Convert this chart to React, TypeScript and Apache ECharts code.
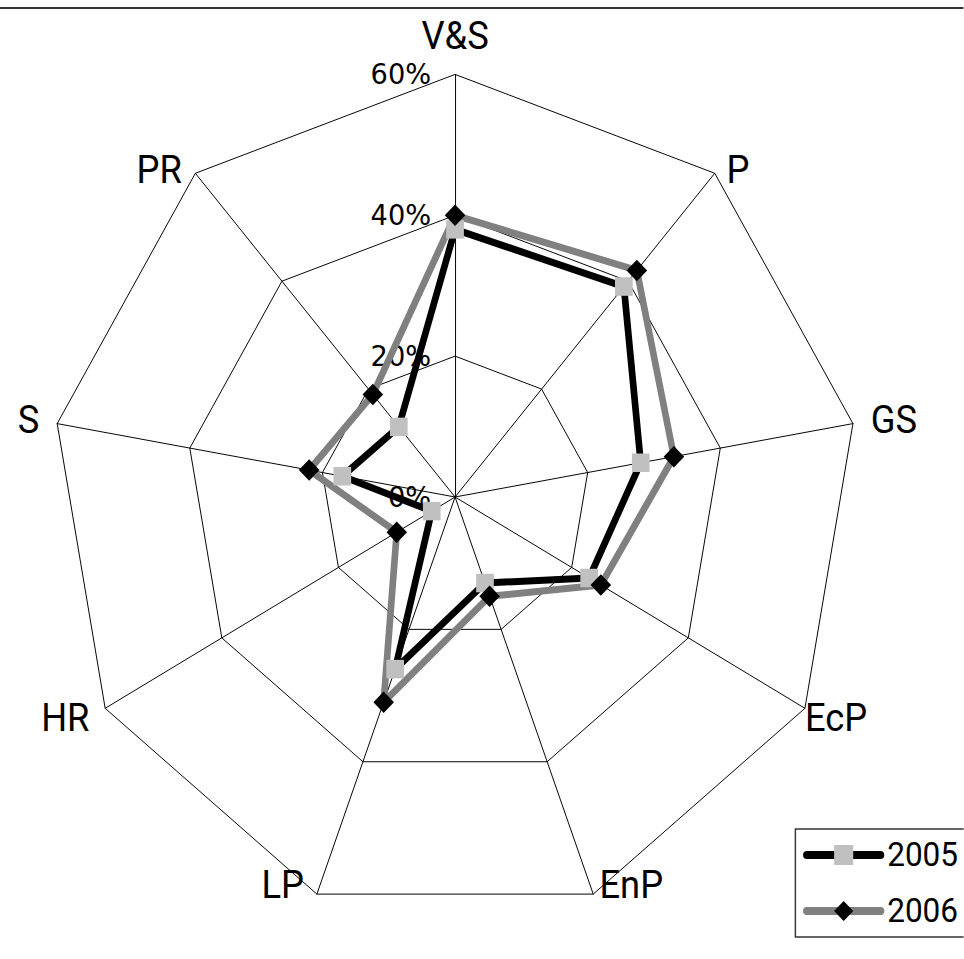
import React, { useEffect, useRef } from "react";
import * as echarts from "echarts";

// Categories in clockwise order starting at the top
const categories = ["V&S", "P", "GS", "EcP", "EnP", "LP", "HR", "S", "PR"];
const values2005 = [38, 39, 28, 23, 13, 26, 4, 17, 13];
const values2006 = [40, 42, 33, 25, 15, 31, 10, 22, 19];
const seriesNames = ["2005", "2006"];
const axisMin = 0;
const axisMax = 60;
const axisSplits = 3;

const SQUASH = 0.956;
const W = Math.round(964 / SQUASH);
const H = 959;

// per-label placement tweaks (layout only)
const nameLayout: Record<
  string,
  { gap?: number; padding?: number[]; verticalAlign?: string; lineHeight?: number }
> = {
  P: { verticalAlign: "top", lineHeight: 22.6 },
  EcP: { gap: 0, verticalAlign: "top", lineHeight: 19.4 },
  EnP: { verticalAlign: "bottom", lineHeight: 54 },
  LP: { verticalAlign: "bottom", lineHeight: 54, padding: [0, 7, 0, 0] },
  PR: { verticalAlign: "top", lineHeight: 22.6, padding: [0, 2, 0, 0] },
};

// ECharts radar runs counter-clockwise; reorder so the picture runs clockwise
function toCcw<T>(arr: T[]): T[] {
  return [arr[0], ...arr.slice(1).reverse()];
}

const lineColors = ["#000000", "#808080"];
const markerColors = ["#c0c0c0", "#000000"];
const markerShapes = ["rect", "diamond"];
const markerSizes = [18.5, 21.5];

export default function App() {
  const ref = useRef<HTMLDivElement>(null);
  useEffect(() => {
    if (!ref.current) return;
    const chart = echarts.init(ref.current, null, { renderer: "svg" });
    const font = "Roboto, 'Liberation Sans', sans-serif";
    const tickFont = "'DejaVu Sans', sans-serif";
    const allValues = [values2005, values2006];
    const indicator = toCcw(categories).map((name, i) => {
      const ind: any = { name, min: axisMin, max: axisMax };
      if (i === 0) ind.axisLabel = { show: true };
      const lay = nameLayout[name];
      if (lay) {
        if (lay.gap != null) ind.nameGap = lay.gap;
        const ts: any = {};
        if (lay.padding) ts.padding = lay.padding;
        if (lay.verticalAlign) ts.verticalAlign = lay.verticalAlign;
        if (lay.lineHeight) ts.lineHeight = lay.lineHeight;
        ind.nameTextStyle = ts;
      }
      return ind;
    });
    chart.setOption({
      animation: false,
      backgroundColor: "#ffffff",
      graphic: [
        {
          type: "line",
          shape: { x1: 0, y1: 8, x2: W, y2: 8 },
          style: { stroke: "#333333", lineWidth: 2 },
        },
      ],
      // hidden grid only hosts the legend-carrying line series (no data drawn)
      grid: { show: false, left: 0, top: 0, width: 10, height: 10 },
      xAxis: { show: false, type: "category", data: [] },
      yAxis: { show: false, type: "value" },
      legend: {
        orient: "vertical",
        left: 832,
        top: 829,
        padding: [6, 80, 6, 8],
        itemWidth: 77,
        itemHeight: 25,
        itemGap: 16,
        borderColor: "#333333",
        borderWidth: 1.5,
        selectedMode: false,
        lineStyle: { width: 8, cap: "round" },
        itemStyle: { borderWidth: 0 },
        textStyle: {
          fontSize: 33,
          lineHeight: 40,
          fontFamily: font,
          color: "#000",
          padding: [0, 0, 0, 2],
        },
        data: seriesNames,
      },
      radar: {
        center: [476, 497],
        radius: 422.6,
        startAngle: 90,
        splitNumber: axisSplits,
        shape: "polygon",
        nameGap: 19,
        indicator,
        axisName: { color: "#000", fontSize: 38, fontFamily: font },
        axisLine: { lineStyle: { color: "#000", width: 1 } },
        splitLine: { lineStyle: { color: "#000", width: 1 } },
        splitArea: { show: false },
        axisTick: { show: false },
        axisLabel: {
          show: false,
          formatter: "{value}%",
          fontSize: 28.5,
          fontFamily: tickFont,
          color: "#000",
          margin: 25,
        },
      },
      series: [
        ...seriesNames.map((name, k) => ({
          type: "radar",
          name: "radar " + name,
          symbol: markerShapes[k],
          symbolSize: markerSizes[k],
          lineStyle: { color: lineColors[k], width: 7 },
          itemStyle: { color: markerColors[k] },
          data: [{ name, value: toCcw(allValues[k]) }],
        })),
        ...seriesNames.map((name, k) => ({
          type: "line",
          name,
          data: [],
          symbol: markerShapes[k],
          lineStyle: { color: lineColors[k], width: 7 },
          itemStyle: { color: markerColors[k], borderWidth: 0 },
        })),
      ],
    });
    return () => chart.dispose();
  }, []);

  return (
    <div
      style={{
        position: "absolute",
        left: 0,
        top: 0,
        width: 964,
        height: 959,
        overflow: "hidden",
        background: "#fff",
      }}
    >
      <div
        ref={ref}
        style={{
          width: W,
          height: H,
          transform: `scaleX(${SQUASH})`,
          transformOrigin: "0 0",
        }}
      />
    </div>
  );
}
